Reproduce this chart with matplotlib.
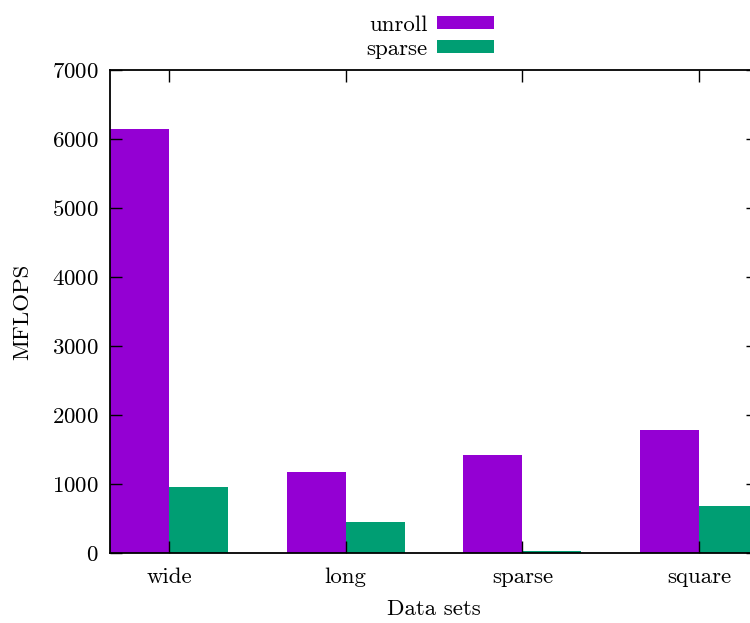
import numpy as np
import matplotlib
matplotlib.use("Agg")
import matplotlib.pyplot as plt

# data
datasets = ["wide", "long", "sparse", "square"]
unroll = [6145, 1175, 1420, 1785]
sparse = [957, 450, 25, 680]

plt.rcParams['font.family'] = ['cmr10', 'DejaVu Serif']
plt.rcParams['axes.formatter.use_mathtext'] = True
plt.rcParams['font.size'] = 16.5

fig = plt.figure(figsize=(7.5, 6.23), dpi=100)
# axes runs past the right edge of the canvas, like the reference
ax = fig.add_axes([110 / 750, (623 - 553) / 623, 648 / 750, 483 / 623])

x = np.arange(len(datasets))
w = 1 / 3
ax.bar(x - w / 2, unroll, w, color='#9400d3', label='unroll')
ax.bar(x + w / 2, sparse, w, color='#009e73', label='sparse')

ax.set_xlim(-w, len(datasets) - 1 + w)
ax.set_ylim(0, 7000)
ax.set_xticks(x)
ax.set_xticklabels(datasets)
ax.set_yticks(np.arange(0, 7001, 1000))

ax.tick_params(direction='in', length=8.6, width=1, top=True, right=True, colors='black')
ax.tick_params(axis='x', pad=10.5)
ax.tick_params(axis='y', pad=8)
for s in ax.spines.values():
    s.set_linewidth(1.3)

ax.set_ylabel('MFLOPS', labelpad=14)
ax.set_xlabel('Data sets', labelpad=9)

ax.legend(loc='lower center', bbox_to_anchor=(0.494, 1.0), frameon=False, markerfirst=False,
          handlelength=2.5, handleheight=0.45, handletextpad=0.4, labelspacing=0.19,
          borderaxespad=0.3, borderpad=0.2)

fig.savefig('out.png', dpi=100)
